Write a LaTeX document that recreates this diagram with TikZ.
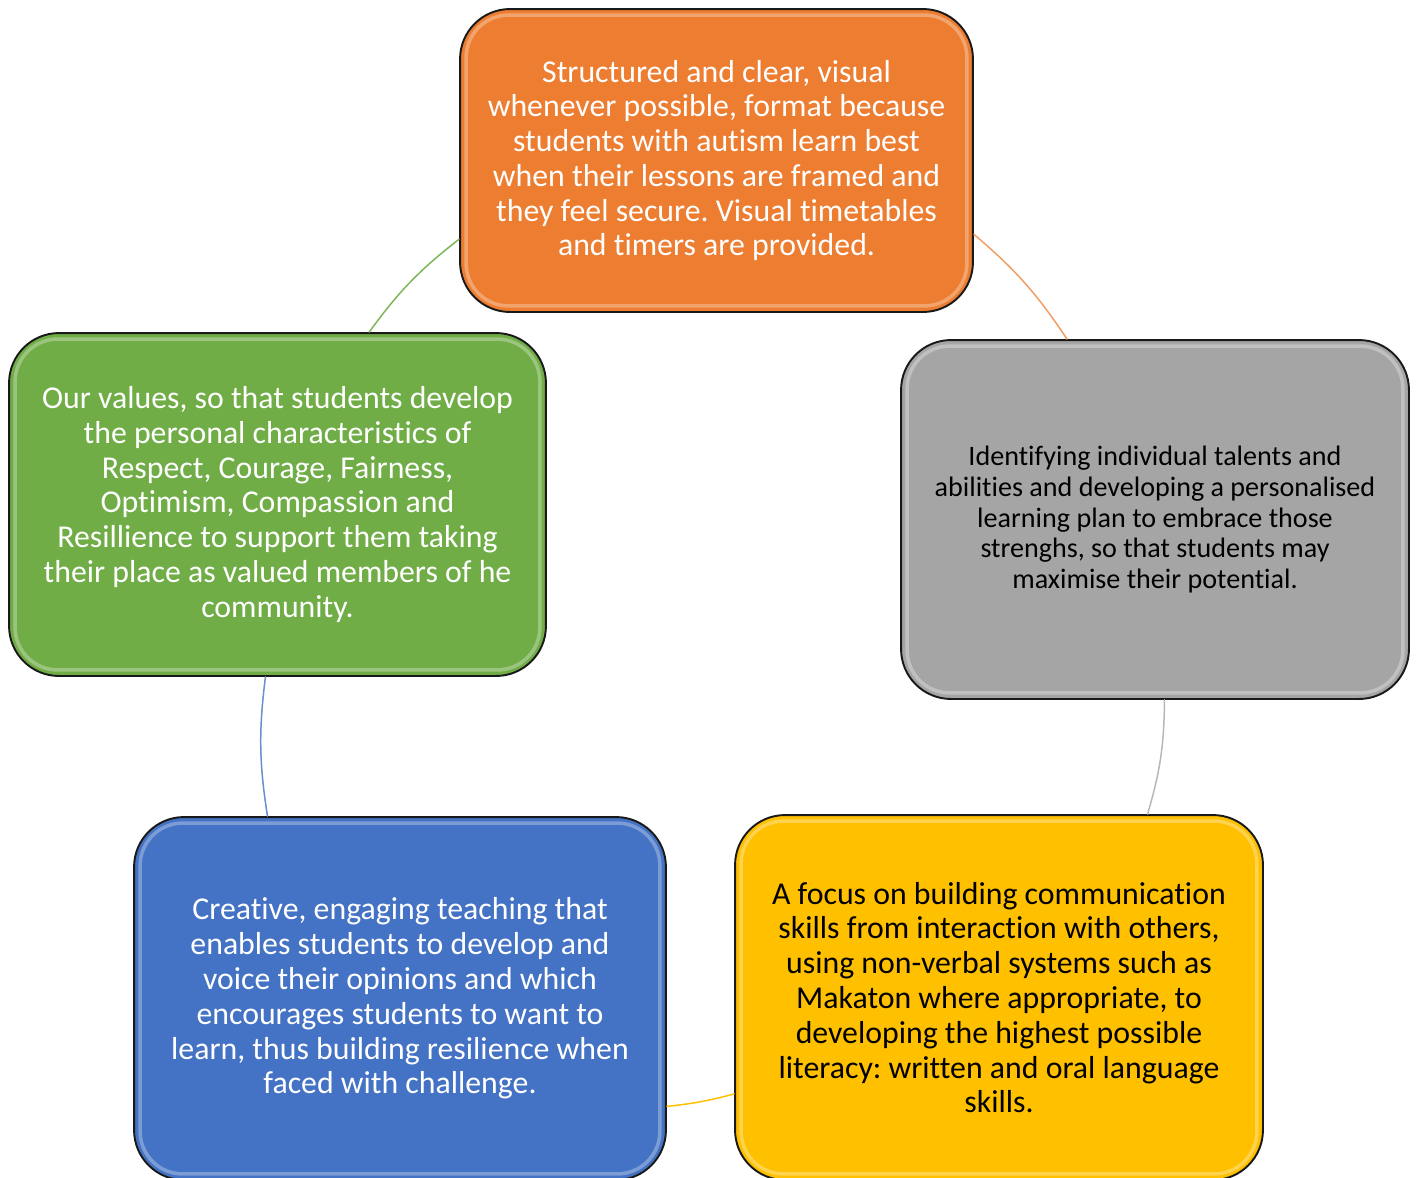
\documentclass[tikz,border=0pt]{standalone}
\usepackage{fontspec}
\setmainfont{Carlito}[Ligatures=NoCommon]
\frenchspacing
\definecolor{cOrange}{HTML}{ED7D31}
\definecolor{cGray}{HTML}{A5A5A5}
\definecolor{cYellow}{HTML}{FFC000}
\definecolor{cBlue}{HTML}{4472C4}
\definecolor{cGreen}{HTML}{70AD47}
\begin{document}
\begin{tikzpicture}[x=0.02cm, y=-0.02cm, line join=round, line cap=round,
  card/.style={draw=black!90, line width=1.1pt, rounded corners=1cm, align=center, inner sep=0pt, font=\fontsize{18.1}{19.8}\selectfont},
  shine/.style={white, opacity=0.3, line width=2pt, rounded corners=0.85cm},
  link/.style={line width=0.85pt, bend left=8}]
\useasboundingbox (0,0) rectangle (1419,1177);
\node[card, fill=cOrange, text=white, minimum width=10.26cm, minimum height=6.06cm] (o) at (716.5,160.5)
  {Structured and clear, visual\\ whenever possible, format because\\ students with autism learn best\\ when their lessons are framed and\\ they feel secure. Visual timetables\\ and timers are provided.};
\node[card, fill=cGray, text=black, minimum width=10.16cm, minimum height=7.18cm, font=\fontsize{16}{17.6}\selectfont] (g) at (1155,519.5)
  {Identifying individual talents and\\ abilities and developing a personalised\\ learning plan to embrace those\\ strenghs, so that students may\\ maximise their potential.};
\node[card, fill=cYellow, text=black, minimum width=10.56cm, minimum height=7.3cm] (y) at (999,997.5)
  {A focus on building communication\\ skills from interaction with others,\\ using non-verbal systems such as\\ Makaton where appropriate, to\\ developing the highest possible\\ literacy: written and oral language\\ skills.};
\node[card, fill=cBlue, text=white, minimum width=10.64cm, minimum height=7.26cm] (b) at (400,998.5)
  {Creative, engaging teaching that\\ enables students to develop and\\ voice their opinions and which\\ encourages students to want to\\ learn, thus building resilience when\\ faced with challenge.};
\node[card, fill=cGreen, text=white, minimum width=10.74cm, minimum height=6.86cm] (v) at (277.5,504.5)
  {Our values, so that students develop\\ the personal characteristics of\\ Respect, Courage, Fairness,\\ Optimism, Compassion and\\ Resillience to support them taking\\ their place as valued members of he\\ community.};
\foreach \n in {o,g,y,b,v}
  \draw[shine] ([shift={(4pt,4pt)}]\n.south west) rectangle ([shift={(-4pt,-4pt)}]\n.north east);
\draw[link, cOrange!75] (o.-16.8) to (g.116.4);
\draw[link, cGray!80] (g.-87.8) to (y.51.2);
\draw[link, cYellow, bend left=4.5] (y.-160.1) to (b.-22.9);
\draw[link, cBlue!80] (b.126.2) to (v.-94.2);
\draw[link, cGreen!90] (v.62.4) to (o.-163.4);
\end{tikzpicture}
\end{document}
